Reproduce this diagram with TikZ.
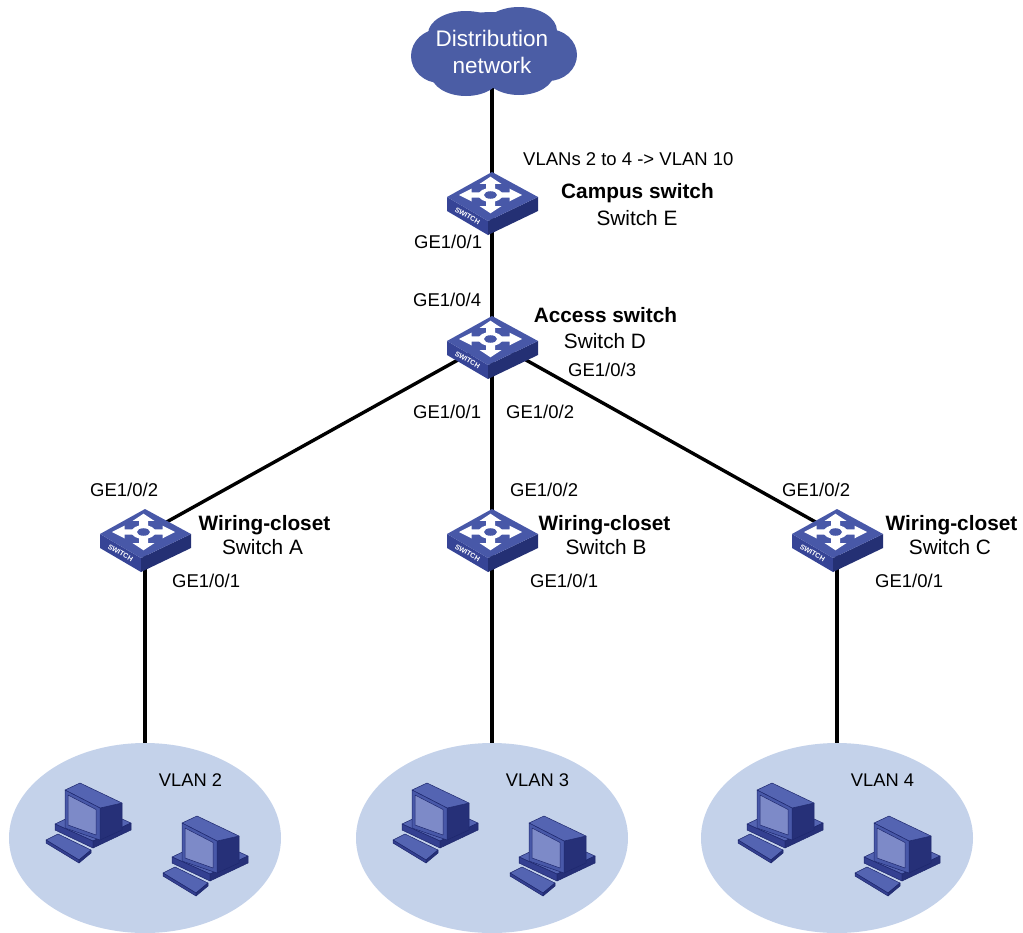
\documentclass[tikz,border=0pt]{standalone}
\usepackage{fontspec}
\setmainfont{Liberation Sans}
\usetikzlibrary{shapes.geometric}

\definecolor{areafill}{RGB}{196,210,234}
\definecolor{cloudfill}{RGB}{75,93,165}
\definecolor{swtopc}{RGB}{72,88,168}
\definecolor{swleftc}{RGB}{54,68,150}
\definecolor{swrightc}{RGB}{36,48,116}
\definecolor{pcbezel}{RGB}{72,88,168}
\definecolor{pcscreen}{RGB}{125,138,200}
\definecolor{pctop}{RGB}{84,100,178}
\definecolor{pcdark}{RGB}{38,48,120}
\definecolor{pcfront}{RGB}{52,64,145}
\definecolor{pcline}{RGB}{30,40,110}

\pgfdeclarelayer{bg}
\pgfsetlayers{bg,main}

\tikzset{
  link/.style={line width=3.4pt, black},
  portlbl/.style={font=\fontsize{18.5}{22}\selectfont, inner sep=0pt, anchor=base west},
  namebold/.style={font=\fontsize{20.8}{25}\selectfont\bfseries, inner sep=0pt, anchor=base},
  namereg/.style={font=\fontsize{20.8}{25}\selectfont, inner sep=0pt, anchor=base},
  vlanlbl/.style={font=\fontsize{18.3}{22}\selectfont, inner sep=0pt, anchor=base},
  vlanarea/.style={ellipse, fill=areafill, minimum width=272pt, minimum height=190pt, inner sep=0pt},
  pcpart/.style={draw=pcline, line width=0.5pt, line join=round},
  % switch icon, origin at the centre of the top face
  switchicon/.pic={
    \fill[swleftc] (-45,0) -- (-4,24) -- (-4,38) -- (-45,14) -- cycle;
    \fill[swrightc] (-4,24) -- (46,0) -- (46,14) -- (-4,38) -- cycle;
    \fill[swtopc] (0,-25) -- (46,0) -- (-4,24) -- (-45,0) -- cycle;
    \begin{scope}[shift={(-1.5,-2)}, yscale=0.58]
      \foreach \a in {0,90,180,270}
        \fill[white, rotate=\a] (10,-4.5) -- (19,-4.5) -- (19,-11) -- (31.5,0)
          -- (19,11) -- (19,4.5) -- (10,4.5) -- cycle;
      \fill[white] (0,0) circle (12);
      \fill[swtopc] (0,0) circle (6.5);
    \end{scope}
    \node[rotate=-30.5, text=white, inner sep=0pt,
          font=\fontsize{7}{7}\selectfont\bfseries] at (-24.5,19) {SWITCH};
  },
  % desktop computer icon, origin near the middle of the icon
  pcicon/.pic={
    \filldraw[pcpart, fill=pctop]   (-34,1) -- (4,18) -- (42,0) -- (4,-17) -- cycle;
    \filldraw[pcpart, fill=pcfront] (-34,1) -- (4,18) -- (4,25) -- (-34,7) -- cycle;
    \filldraw[pcpart, fill=pcdark]  (4,18) -- (42,0) -- (42,7) -- (4,25) -- cycle;
    \filldraw[pcpart, fill=pcdark]  (11,-15) -- (33,-20) -- (33,7) -- (11,17) -- cycle;
    \filldraw[pcpart, fill=pctop]   (-24,-33) -- (-9,-40) -- (33,-20) -- (11,-15) -- cycle;
    \filldraw[pcpart, fill=pcbezel] (-24,-33) -- (11,-15) -- (11,17) -- (-24,5) -- cycle;
    \filldraw[pcpart, fill=pcscreen] (-21,-28) -- (7,-13.5) -- (7,12) -- (-21,2) -- cycle;
    \filldraw[pcpart, fill=pctop]   (-43,17) -- (-31,11) -- (2,27) -- (-10,37) -- cycle;
    \filldraw[pcpart, fill=pcfront] (-43,17) -- (-10,37) -- (-10,40) -- (-43,20) -- cycle;
    \filldraw[pcpart, fill=pcdark]  (-10,37) -- (2,27) -- (2,30) -- (-10,40) -- cycle;
  },
}

\begin{document}
\begin{tikzpicture}[x=1pt, y=-1pt]
\useasboundingbox (0,0) rectangle (1023,932);

% VLAN areas
\node[vlanarea] (v2) at (145,838) {};
\node[vlanarea] (v3) at (492,838) {};
\node[vlanarea] (v4) at (837,838) {};

% switch positions
\coordinate (swE) at (492,197);
\coordinate (swD) at (492,341);
\coordinate (swA) at (145,534);
\coordinate (swB) at (492,534);
\coordinate (swC) at (837,534);

% distribution cloud
\fill[cloudfill] (492,50) ellipse [x radius=66, y radius=38];
\fill[cloudfill] (466,34) ellipse [x radius=38, y radius=23];
\fill[cloudfill] (519,31) ellipse [x radius=38, y radius=24];
\fill[cloudfill] (440,56) ellipse [x radius=29, y radius=27];
\fill[cloudfill] (548,55) ellipse [x radius=29, y radius=26];
\fill[cloudfill] (466,74) ellipse [x radius=35, y radius=22];
\fill[cloudfill] (519,73) ellipse [x radius=35, y radius=22];
\node[text=white, align=center, inner sep=0pt,
      font=\fontsize{22.5}{27.5}\selectfont] (cloudtxt) at (492,52)
      {Distribution\\network};

% links
\begin{pgfonlayer}{bg}
  \draw[link] (cloudtxt) -- (swE);
  \draw[link] (swE) -- (swD);
  \draw[link] (swD) -- (swA);
  \draw[link] (swD) -- (swB);
  \draw[link] (swD) -- (swC);
  \draw[link] (swA) -- (v2.north);
  \draw[link] (swB) -- (v3.north);
  \draw[link] (swC) -- (v4.north);
\end{pgfonlayer}

% switches
\pic at (swE) {switchicon};
\pic at (swD) {switchicon};
\pic at (swA) {switchicon};
\pic at (swB) {switchicon};
\pic at (swC) {switchicon};

% hosts
\pic at (89,823) {pcicon};
\pic at (206,856) {pcicon};
\pic at (436,823) {pcicon};
\pic at (553,856) {pcicon};
\pic at (781,823) {pcicon};
\pic at (898,856) {pcicon};

\node[vlanlbl] (l2) at (190.5,786.5) {VLAN 2};
\node[vlanlbl] (l3) at (537.5,786.5) {VLAN 3};
\node[vlanlbl] (l4) at (882.5,786.5) {VLAN 4};

% switch names
\node[portlbl] (map) at (523,165) {VLANs 2 to 4 -> VLAN 10};
\node[namebold] (nE1) at (637.5,198.5) {Campus switch};
\node[namereg]  (nE2) at (637,225) {Switch E};
\node[namebold] (nD1) at (605.5,322) {Access switch};
\node[namereg]  (nD2) at (605,348) {Switch D};
\node[namebold] (nA1) at (264.5,530) {Wiring-closet};
\node[namereg]  (nA2) at (262.5,554) {Switch A};
\node[namebold] (nB1) at (604.5,530) {Wiring-closet};
\node[namereg]  (nB2) at (606,554) {Switch B};
\node[namebold] (nC1) at (951.5,530) {Wiring-closet};
\node[namereg]  (nC2) at (950,554) {Switch C};

% port labels
\node[portlbl] (pE1) at (414,248.5) {GE1/0/1};
\node[portlbl] (pD4) at (413,306) {GE1/0/4};
\node[portlbl] (pD3) at (568,376) {GE1/0/3};
\node[portlbl] (pD1) at (413,418) {GE1/0/1};
\node[portlbl] (pD2) at (506,418) {GE1/0/2};
\node[portlbl] (pA2) at (90,496) {GE1/0/2};
\node[portlbl] (pA1) at (172,587) {GE1/0/1};
\node[portlbl] (pB2) at (510,496) {GE1/0/2};
\node[portlbl] (pB1) at (530,587) {GE1/0/1};
\node[portlbl] (pC2) at (782,496) {GE1/0/2};
\node[portlbl] (pC1) at (875,587) {GE1/0/1};
\end{tikzpicture}
\end{document}
